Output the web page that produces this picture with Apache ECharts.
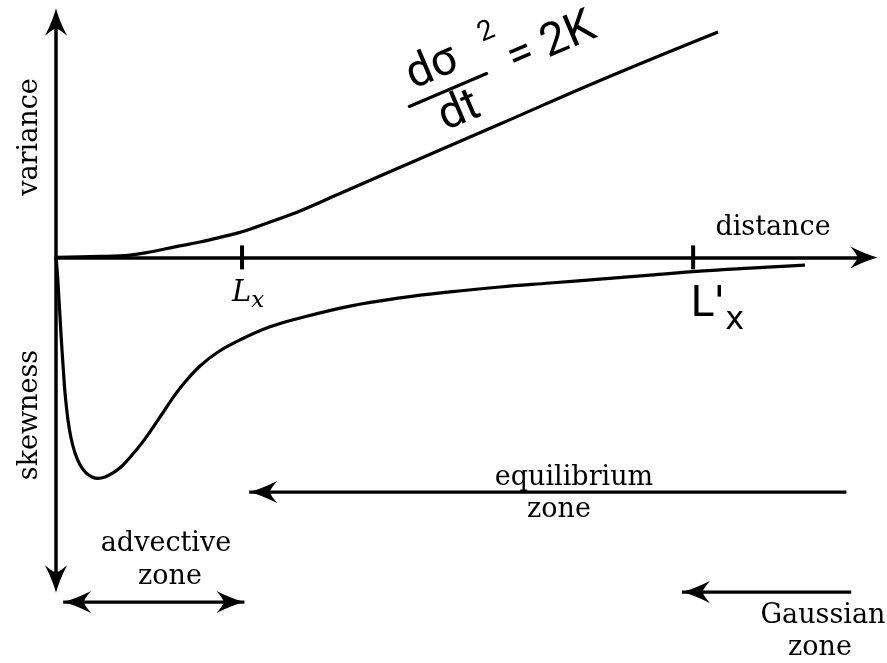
<!DOCTYPE html>
<html>
<head>
<meta charset="utf-8">
<script src="https://cdn.jsdelivr.net/npm/echarts@6/dist/echarts.min.js"></script>
<style>
  html, body { margin: 0; padding: 0; background: #ffffff; }
  #chart { width: 887px; height: 663px; }
</style>
</head>
<body>
<div id="chart"></div>
<script>
// Distance downstream (arbitrary units) and the growth of the variance
const varianceDistance = [0, 5.51, 9.27, 11.77, 14.90, 18.04, 20.79, 23.42, 26.80, 30.56, 35.57, 40.58, 55.61, 68.14, 82.92];
const varianceValues   = [0, 0.4, 1.0, 2.3, 4.5, 6.6, 8.8, 11.1, 15.2, 19.9, 27.4, 34.9, 57.2, 75.9, 96.7];

// Skewness: sharp negative dip close to the source, then slow relaxation towards zero
const skewnessDistance = [0, 0.19, 0.38, 0.56, 0.75, 0.94, 1.13, 1.50, 1.88, 2.38, 3.01, 3.76, 4.51, 5.26, 6.14, 7.14,
                          8.27, 9.52, 10.77, 12.02, 13.28, 14.53, 16.16, 18.04, 20.29, 23.05, 26.80, 30.56, 36.82,
                          43.09, 49.35, 55.61, 61.87, 68.14, 74.40, 80.66, 86.92, 93.81];
const skewnessValues   = [0, -7.6, -18.3, -29.0, -39.7, -49.2, -58.2, -69.8, -77.5, -83.9, -89.0, -92.5, -94.2, -94.8, -94.2, -92.5,
                          -89.5, -84.8, -79.6, -73.6, -67.2, -60.8, -53.5, -46.6, -40.6, -35.4, -29.8, -26.0, -20.9,
                          -17.4, -14.8, -12.7, -11.0, -9.3, -7.6, -5.9, -4.6, -3.3];

// Characteristic length scales marked on the distance axis
const tickPositions = [23.3, 79.8];
const tickNames = ['Lx', "L'x"];

// Zone arrows: start, end (arrow tip) and the level at which each is drawn
const zoneNames    = ['equilibrium', 'Gaussian', 'advective'];
const zoneStart    = [99.0, 99.6, 0.9];
const zoneEnd      = [24.2, 78.4, 23.6];
const zoneLevel    = [-100.7, -143.6, -147.9];
const zoneTwoHeads = [false, false, true];

const INK = '#000000';
// Bold swept-back arrow head, drawn pointing up
const ARROW = 'path://M12 0 Q15 12 24 30 Q16 23 12 22 Q8 23 0 30 Q9 12 12 0 Z';
const HEAD = [22, 28];

const chart = echarts.init(document.getElementById('chart'), null, { renderer: 'canvas' });

function pairs(xs, ys) { return xs.map((x, i) => [x, ys[i]]); }

function headItem(x, y, pointsLeft) {
  return {
    value: [x, y],
    symbol: ARROW,
    symbolSize: HEAD,
    symbolRotate: pointsLeft ? 90 : -90,
    symbolOffset: [pointsLeft ? HEAD[1] / 2 : -HEAD[1] / 2, 0]
  };
}

const zoneSeries = zoneNames.map((name, i) => {
  const leftward = zoneEnd[i] < zoneStart[i];
  const startItem = zoneTwoHeads[i]
    ? headItem(zoneStart[i], zoneLevel[i], !leftward)
    : { value: [zoneStart[i], zoneLevel[i]], symbol: 'none' };
  return {
    name: name,
    type: 'line',
    clip: false,
    silent: true,
    animation: false,
    itemStyle: { color: INK, opacity: 1 },
    lineStyle: { color: INK, width: 3.2 },
    data: [startItem, headItem(zoneEnd[i], zoneLevel[i], leftward)]
  };
});

const serif = 'DejaVu Serif';
const textFont = '27px "DejaVu Serif"';

function note(text, x, y, rotation) {
  return {
    type: 'text', x: x, y: y, rotation: rotation || 0,
    style: { text: text, font: textFont, fill: INK, align: 'center', verticalAlign: 'middle' }
  };
}

const option = {
  backgroundColor: '#ffffff',
  animation: false,
  grid: { left: 56, right: 23, top: 22, bottom: 84 },
  xAxis: {
    type: 'value', min: 0, max: 101.2,
    axisLine: { show: true, onZero: true, symbol: ['none', ARROW], symbolSize: HEAD,
                lineStyle: { color: INK, width: 3.5 } },
    axisTick: { show: false }, axisLabel: { show: false }, splitLine: { show: false }
  },
  yAxis: {
    type: 'value', min: -138, max: 101,
    axisLine: { show: true, onZero: true, symbol: [ARROW, ARROW], symbolSize: HEAD,
                lineStyle: { color: INK, width: 3.5 } },
    axisTick: { show: false }, axisLabel: { show: false }, splitLine: { show: false }
  },
  series: [
    {
      name: 'variance', type: 'line', smooth: 0.4, symbol: 'none', silent: true,
      lineStyle: { color: INK, width: 3.2 },
      data: pairs(varianceDistance, varianceValues)
    },
    {
      name: 'skewness', type: 'line', smooth: 0.4, symbol: 'none', silent: true,
      lineStyle: { color: INK, width: 3.2 },
      data: pairs(skewnessDistance, skewnessValues)
    },
    {
      name: 'length scales', type: 'scatter', silent: true,
      symbol: 'rect', symbolSize: [4, 24],
      itemStyle: { color: INK, opacity: 1 },
      data: tickPositions.map((x, i) => ({
        value: [x, 0],
        label: i === 0 ? {
          show: true, position: 'bottom', distance: 8, offset: [6, 0], color: INK, opacity: 1,
          formatter: '{m|L}{s|x}',
          rich: {
            m: { fontFamily: serif, fontStyle: 'italic', fontSize: 29, color: INK, lineHeight: 32 },
            s: { fontFamily: serif, fontStyle: 'italic', fontSize: 23, color: INK, lineHeight: 32, padding: [16, 0, 0, 0] }
          }
        } : {
          show: true, position: 'bottom', distance: 14, offset: [24, 0], color: INK, opacity: 1,
          formatter: '{m|L\'}{s|x}',
          rich: {
            m: { fontFamily: 'DejaVu Sans', fontSize: 42, color: INK, lineHeight: 44 },
            s: { fontFamily: 'DejaVu Sans', fontSize: 32, color: INK, lineHeight: 44, padding: [30, 0, 0, 0] }
          }
        }
      }))
    }
  ].concat(zoneSeries),
  graphic: [
    note('variance', 30, 137, Math.PI / 2),
    note('skewness', 30, 415, Math.PI / 2),
    note('distance', 773, 228),
    note('equilibrium', 574, 478),
    note('zone', 559, 510),
    note('advective', 166, 544),
    note('zone', 170, 577),
    note('Gaussian', 823, 616),
    note('zone', 820, 648),
    // Growth-rate relation written along the variance line
    {
      type: 'group', x: 448, y: 90, rotation: 23 * Math.PI / 180,
      children: [
        { type: 'line', shape: { x1: -42, y1: 0, x2: 42, y2: 0 }, style: { stroke: INK, lineWidth: 3.2, lineCap: 'round' } },
        { type: 'text', x: -6, y: -3,
          style: { text: 'dσ', font: '46px Roboto', fill: INK, align: 'center', verticalAlign: 'bottom' } },
        { type: 'text', x: 58, y: -38,
          style: { text: '2', font: '28px Roboto', fill: INK, align: 'center', verticalAlign: 'middle' } },
        { type: 'text', x: 2, y: 2,
          style: { text: 'dt', font: '46px Roboto', fill: INK, align: 'center', verticalAlign: 'top' } },
        { type: 'text', x: 68, y: -2,
          style: { text: '= 2K', font: '46px Roboto', fill: INK, align: 'left', verticalAlign: 'middle' } }
      ]
    }
  ]
};

chart.setOption(option);
</script>
</body>
</html>
